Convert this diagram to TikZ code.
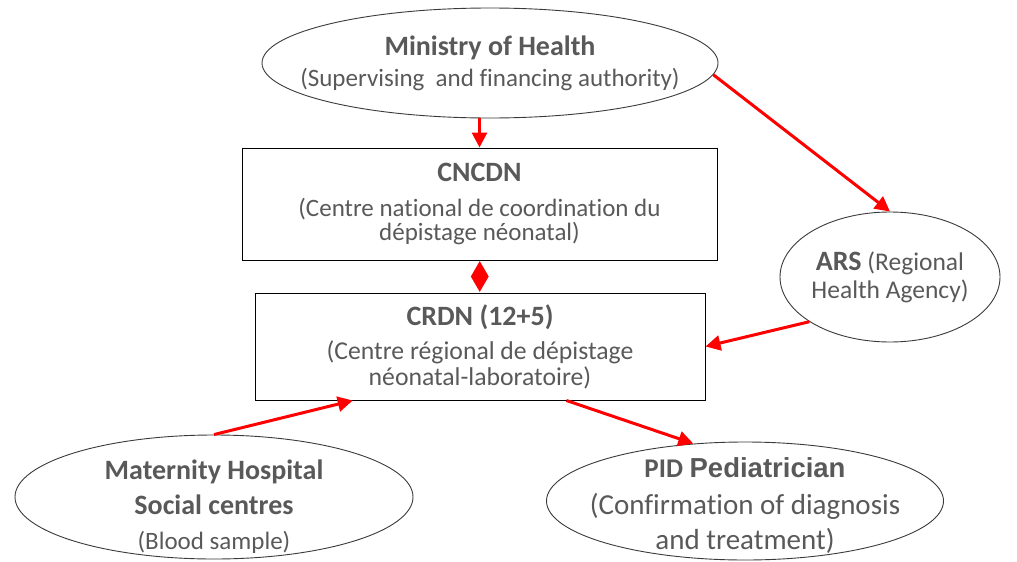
\documentclass[tikz,border=0pt]{standalone}
\usepackage{fontspec}
\setmainfont{Carlito}[Ligatures={NoCommon}]
\newfontfamily\headfont{Liberation Sans}
\usetikzlibrary{shapes.geometric,arrows.meta,calc}
\definecolor{txt}{HTML}{595959}
\definecolor{arr}{HTML}{FF0000}
\definecolor{edge}{HTML}{3A3A3A}
\newcommand{\fs}[2]{\fontsize{#1}{#2}\selectfont}
\begin{document}
\begin{tikzpicture}[x=1pt,y=-1pt,
  oval/.style={ellipse, draw=edge, line width=0.9pt, inner sep=0pt},
  inside/.style={align=center, text=txt, inner sep=0pt},
  box/.style={rectangle, draw=black, line width=1pt, inner sep=0pt, text=txt, align=center},
  link/.style={draw=arr, line width=3pt, -{Triangle[length=15pt,width=15pt]}},
]
\useasboundingbox (0,0) rectangle (1017,562);

% top authority (text set as a centred label so the oval keeps its size)
\node[oval, minimum width=456pt, minimum height=110pt,
  label={[name=mohtext, inside, font=\fs{25}{31}]center:{\fs{28}{31}\bfseries Ministry of Health\\
   (Supervising\ \ and financing authority)}}] (moh) at (490,63) {};

% national coordination centre
\node[box, minimum width=475pt, minimum height=112pt, font=\fs{25}{24}] (cncdn) at (479.5,204)
  {\fs{28}{24}\bfseries CNCDN\\[11pt]
   (Centre national de coordination du\\
   dépistage néonatal)};

% regional centres
\node[box, minimum width=450pt, minimum height=107pt, font=\fs{25.7}{26}] (crdn) at (480,346.5)
  {\fs{28}{26}\bfseries CRDN (12+5)\\[8pt]
   (Centre régional de dépistage\\
   néonatal-laboratoire)};

% regional health agency
\node[oval, minimum width=220pt, minimum height=130pt,
  label={[name=arstext, inside, font=\fs{25.5}{28}]center:{{\fs{28}{28}\bfseries ARS} (Regional\\
   Health Agency)}}] (ars) at (890,277) {};

% sampling sites
\node[oval, minimum width=398pt, minimum height=124pt,
  label={[name=mattext, inside, font=\fs{25}{35}]center:{\rule{0pt}{39pt}\fs{28}{35}\bfseries Maternity Hospital\\
   \fs{28}{35}\bfseries Social centres\\
   (Blood\ sample)}}] (mat) at (214,497) {};

% follow-up
\node[oval, minimum width=397pt, minimum height=118pt,
  label={[name=pidtext, inside, font=\fs{29}{35}]center:{\rule{0pt}{29pt}{\fs{27}{35}\bfseries PID} {\headfont\bfseries\fs{27.5}{35}Pediatrician}\\[2pt]
   (Confirmation of diagnosis\\
   and treatment)}}] (pid) at (745,501) {};

% link between the two centres
\node[diamond, fill=arr, inner sep=0pt, minimum width=18pt, minimum height=31pt]
  (dia) at ($(cncdn.south)!0.5!(crdn.north)$) {};

% reporting lines
\draw[link] (cncdn.north |- moh.south) -- (cncdn.north);
\draw[link] (moh.-3) -- (ars.north);
\draw[link] (ars.209) -- (crdn.east);
\draw[link] (mat.north) -- (crdn.203.5);
\draw[link] (crdn.-32.2) -- (pid.132);
\end{tikzpicture}
\end{document}
